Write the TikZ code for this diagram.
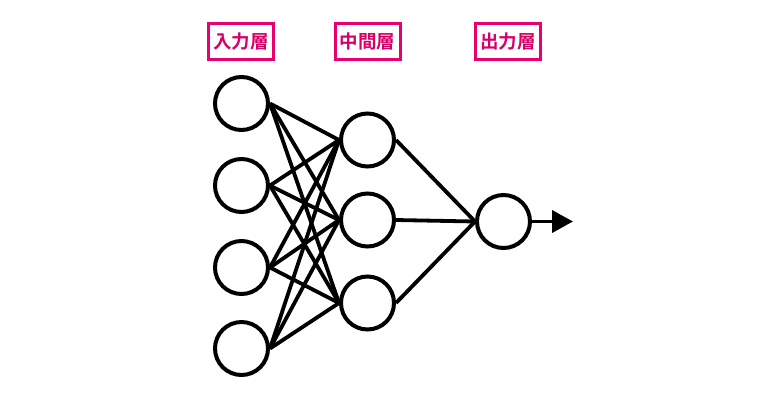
\documentclass[tikz,border=0pt]{standalone}
\usepackage{fontspec}
\newfontfamily\jpfont{Noto Sans CJK JP}[BoldFont={* Bold}]
\usetikzlibrary{arrows.meta}
\definecolor{labpink}{RGB}{232,0,112}
\definecolor{labtext}{RGB}{214,0,104}
\tikzset{
  neuron/.style={circle,draw=black,line width=4bp,minimum size=53bp,inner sep=0pt},
  layerlabel/.style={draw=labpink,line width=3bp,minimum width=65bp,minimum height=36bp,inner sep=0pt,text=labtext,font=\jpfont\bfseries\fontsize{18.5bp}{20bp}\selectfont},
  link/.style={line width=3.8bp,black},
}
\begin{document}
\begin{tikzpicture}[x=1bp,y=-1bp]
\useasboundingbox (0,0) rectangle (764,400);
\node[layerlabel] (l1) at (241,41.5) {入力層};
\node[layerlabel] (l2) at (367.5,41.5) {中間層};
\node[layerlabel] (l3) at (508,41.5) {出力層};
\node[neuron] (i1) at (241.5,103.5) {};
\node[neuron] (i2) at (241.5,185.5) {};
\node[neuron] (i3) at (241.5,267.5) {};
\node[neuron] (i4) at (241.5,348.5) {};
\node[neuron] (h1) at (367.5,140) {};
\node[neuron] (h2) at (367.5,220) {};
\node[neuron] (h3) at (367.5,303) {};
\node[neuron] (o1) at (503.5,221.5) {};
\coordinate (out) at (573,221.5);
\foreach \i in {1,2,3,4}{
  \foreach \h in {1,2,3}{
    \draw[link] (i\i.east) -- (h\h.west);
  }
}
\foreach \h in {1,2,3}{
  \draw[link] (h\h.east) -- (o1.west);
}
\draw[link,-{Triangle[length=21bp,width=22bp]}] (o1.east) -- (out);
\end{tikzpicture}
\end{document}
